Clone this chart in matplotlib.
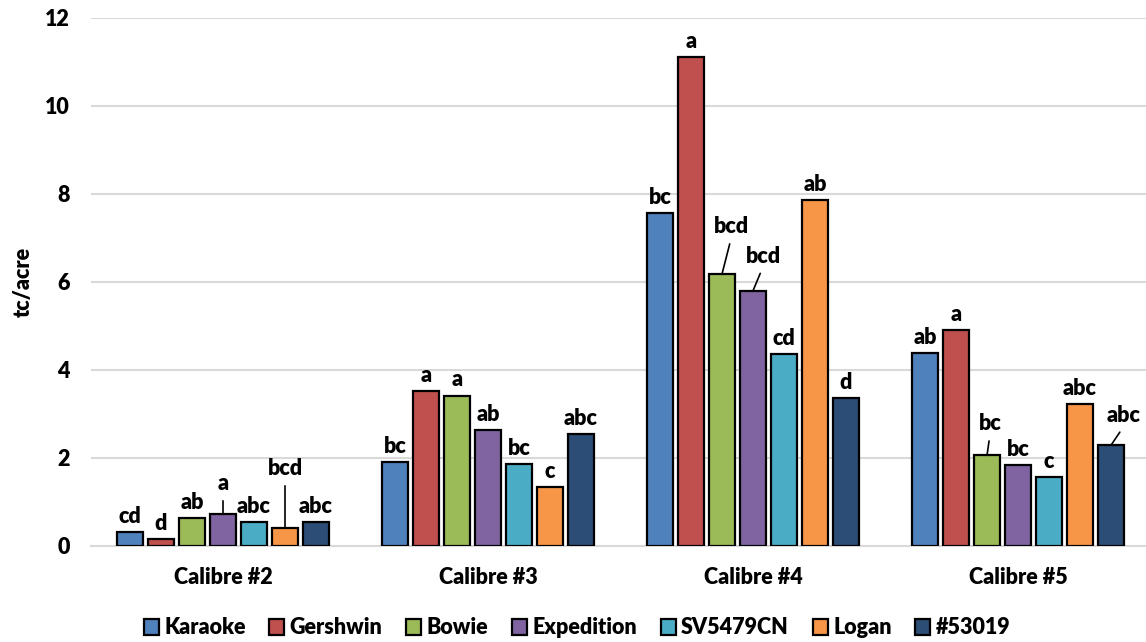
import numpy as np
import matplotlib
matplotlib.use("Agg")
import matplotlib.pyplot as plt

calibres = ["Calibre #2", "Calibre #3", "Calibre #4", "Calibre #5"]
varieties = ["Karaoke", "Gershwin", "Bowie", "Expedition", "SV5479CN", "Logan", "#53019"]

karaoke = [0.31, 1.90, 7.57, 4.39]
gershwin = [0.15, 3.52, 11.12, 4.91]
bowie = [0.64, 3.42, 6.18, 2.06]
expedition = [0.73, 2.63, 5.80, 1.83]
sv5479cn = [0.55, 1.86, 4.36, 1.57]
logan = [0.42, 1.33, 7.86, 3.22]
n53019 = [0.54, 2.54, 3.37, 2.29]

karaoke_let = ["cd", "bc", "bc", "ab"]
gershwin_let = ["d", "a", "a", "a"]
bowie_let = ["ab", "a", "bcd", "bc"]
expedition_let = ["a", "ab", "bcd", "bc"]
sv5479cn_let = ["abc", "bc", "cd", "c"]
logan_let = ["bcd", "c", "ab", "abc"]
n53019_let = ["abc", "abc", "d", "abc"]

values = [karaoke, gershwin, bowie, expedition, sv5479cn, logan, n53019]
letters = [karaoke_let, gershwin_let, bowie_let, expedition_let,
           sv5479cn_let, logan_let, n53019_let]

colors = ["#4F81BD", "#C0504D", "#9BBB59", "#8064A2", "#4BACC6", "#F79646", "#2C4D75"]

# labels moved off the bar with a leader line: (group, series) -> offset in points
leaders = {
    (0, 3): (0, 17.3),
    (0, 5): (0, 37.9),
    (2, 2): (6.8, 29.5),
    (2, 3): (7.2, 20.2),
    (3, 2): (2.2, 18.2),
    (3, 6): (9.4, 16.8),
}

plt.rcParams["font.family"] = ["Lato", "DejaVu Sans"]
W = 800
plt.rcParams["font.weight"] = W
FS = 15.5

fig = plt.figure(figsize=(11.46, 6.42), dpi=100)
ax = fig.add_axes([90.5 / 1146, 96 / 642, 1060 / 1146, 528 / 642])

x = np.arange(len(calibres))
step = 31 / 265
width = 26 / 265

handles = []
for j, (vals, labs) in enumerate(zip(values, letters)):
    xs = x + (j - 3) * step
    bars = ax.bar(xs, vals, width=width, color=colors[j], edgecolor="black",
                  linewidth=1.6, zorder=3, label=varieties[j])
    handles.append(bars)
    for i in range(len(calibres)):
        if (i, j) in leaders:
            dx, dy = leaders[(i, j)]
            ax.annotate(labs[i], xy=(xs[i], vals[i]), xytext=(dx, dy),
                        textcoords="offset points", ha="center", va="baseline",
                        fontsize=FS, fontweight=W,
                        arrowprops=dict(arrowstyle="-", color="black", lw=1.2,
                                        relpos=(0.5, 0), shrinkA=3, shrinkB=0))
        else:
            ax.annotate(labs[i], xy=(xs[i], vals[i]), xytext=(0, 6.5),
                        textcoords="offset points", ha="center", va="baseline",
                        fontsize=FS, fontweight=W)

ax.set_xlim(-0.5, 3.5)
ax.set_ylim(0, 12)
ax.set_yticks(np.arange(0, 13, 2))
ax.set_xticks(x)
ax.set_xticklabels(calibres, fontweight=W)
ax.set_yticklabels([str(v) for v in range(0, 13, 2)], fontweight=W)
ax.tick_params(axis="y", length=0, pad=15, labelsize=FS)
ax.tick_params(axis="x", length=0, pad=15, labelsize=FS)
ax.grid(axis="y", color="#D9D9D9", linewidth=1.5, zorder=0)
for s in ["top", "right", "left"]:
    ax.spines[s].set_visible(False)
ax.spines["bottom"].set_color("#D9D9D9")
ax.spines["bottom"].set_linewidth(1.5)

fig.text(23 / 1146, (642 - 282) / 642, "tc/acre", rotation=90, ha="center",
         va="center", fontsize=FS, fontweight=W)

fig.legend(handles=handles, loc="center", bbox_to_anchor=(577 / 1146, 14 / 642),
           ncol=7, frameon=False, prop={"size": FS, "weight": W},
           handlelength=0.7, handleheight=0.7, handletextpad=0.25,
           columnspacing=1.1)

fig.savefig("out.png", dpi=100)
